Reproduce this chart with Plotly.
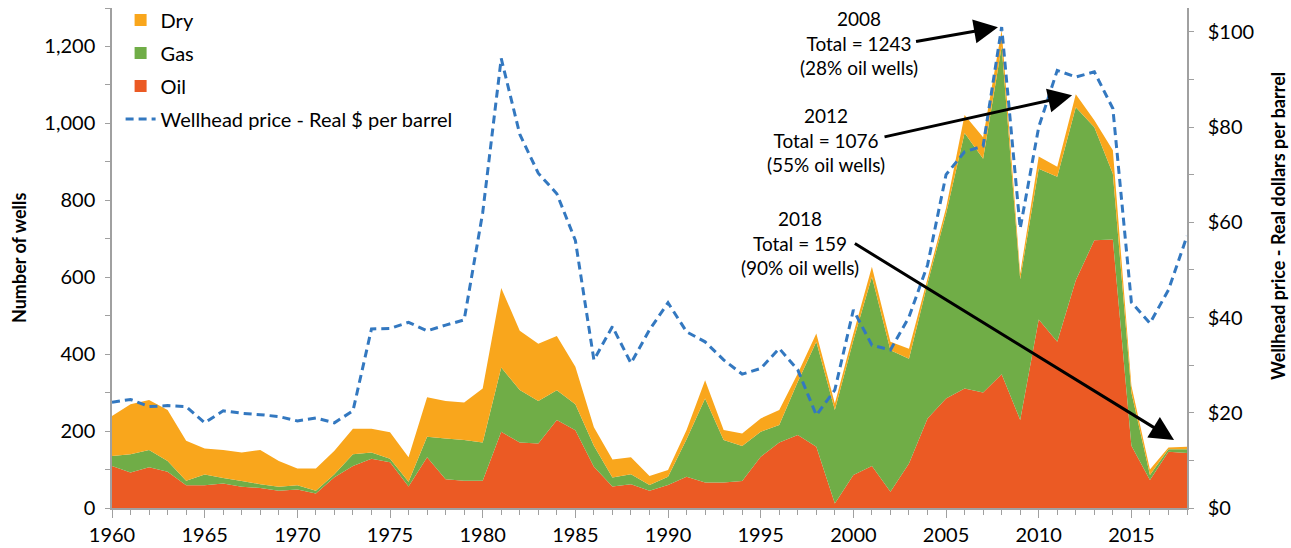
import plotly.graph_objects as go

years = list(range(1960, 2019))

oil_wells = [109, 92, 106, 94, 59, 59, 64, 55, 52, 45,
             48, 38, 80, 109, 128, 119, 56, 132, 75, 71,
             71, 198, 170, 168, 229, 202, 107, 56, 62, 45,
             60, 81, 66, 66, 70, 133, 170, 190, 159, 12,
             86, 109, 42, 116, 233, 285, 311, 300, 348, 229,
             490, 432, 592, 696, 698, 162, 73, 146, 143]

gas_wells = [26, 48, 45, 28, 12, 28, 14, 15, 10, 10,
             11, 7, 8, 31, 16, 9, 12, 53, 106, 106,
             99, 167, 137, 110, 77, 68, 55, 23, 26, 15,
             21, 98, 219, 111, 91, 65, 46, 138, 273, 243,
             350, 492, 368, 272, 351, 480, 664, 608, 852, 366,
             392, 429, 450, 294, 171, 138, 13, 7, 10]

dry_wells = [104, 130, 130, 133, 104, 68, 73, 74, 89, 67,
             44, 58, 61, 66, 62, 69, 64, 103, 97, 97,
             141, 207, 154, 149, 141, 97, 48, 47, 44, 23,
             18, 24, 47, 26, 33, 35, 39, 22, 22, 17,
             18, 26, 22, 26, 13, 15, 47, 56, 43, 15,
             32, 26, 34, 18, 61, 18, 14, 4, 6]

price = [22.2, 22.8, 21.3, 21.5, 21.3, 17.9, 20.4, 19.9, 19.6, 19.2,
         18.3, 18.9, 17.9, 20.4, 37.6, 37.7, 39.0, 37.2, 38.4, 39.5,
         62.0, 94.4, 78.5, 70.3, 66.0, 56.2, 31.1, 38.1, 30.4, 37.4,
         43.1, 37.0, 34.9, 31.1, 28.1, 29.3, 33.5, 29.0, 19.5, 24.8,
         41.6, 34.2, 33.2, 40.1, 51.0, 70.0, 74.8, 76.0, 101.0, 58.7,
         80.0, 91.9, 90.5, 91.6, 83.9, 43.2, 38.8, 45.8, 57.1]

x_tick_vals = list(range(1960, 2019, 5))
left_tick_vals = [0, 200, 400, 600, 800, 1000, 1200]
right_tick_vals = [0, 20, 40, 60, 80, 100]
right_tick_text = ["$" + str(v) for v in right_tick_vals]

notes = [
    ("2008<br>Total = 1243<br>(28% oil wells)", 2000.3, 1210, 2003.3, 1212, 2007.8, 1250),
    ("2012<br>Total = 1076<br>(55% oil wells)", 1998.5, 956, 2001.6, 964, 2011.8, 1073),
    ("2018<br>Total = 159<br>(90% oil wells)", 1997.1, 688, 2000.0, 690, 2017.3, 177),
]

FONT = "Lato, 'Open Sans', Arial, sans-serif"
C_OIL = "#EB5A24"
C_GAS = "#70AD47"
C_DRY = "#F9A61C"
C_PRICE = "#3378C0"
AX = "#A0A0A0"
TICKSZ = 20

fig = go.Figure()
fig.add_trace(go.Scatter(x=years, y=oil_wells, name="Oil", stackgroup="w", mode="none",
                         fillcolor=C_OIL, showlegend=False))
fig.add_trace(go.Scatter(x=years, y=gas_wells, name="Gas", stackgroup="w", mode="none",
                         fillcolor=C_GAS, showlegend=False))
fig.add_trace(go.Scatter(x=years, y=dry_wells, name="Dry", stackgroup="w", mode="none",
                         fillcolor=C_DRY, showlegend=False))
fig.add_trace(go.Scatter(x=years, y=price, name="Wellhead price - Real $ per barrel",
                         mode="lines", yaxis="y2", legendrank=4, legendgroup="d",
                         line=dict(color=C_PRICE, width=3, dash="8px,5px")))

# legend keys (square swatches like the original)
for nm, col, rk, grp in [("Dry", C_DRY, 1, "a"), ("Gas", C_GAS, 2, "b"), ("Oil", C_OIL, 3, "c")]:
    fig.add_trace(go.Scatter(x=[None], y=[None], name=nm, mode="markers", legendrank=rk,
                             legendgroup=grp,
                             marker=dict(symbol="square", size=12, color=col, line=dict(width=0))))

for text, tx, ty, ax_, ay_, hx, hy in notes:
    fig.add_annotation(x=tx, y=ty, text=text, showarrow=False, xref="x", yref="y",
                       font=dict(family=FONT, size=19, color="#000000"), align="center")
    fig.add_annotation(x=hx, y=hy, ax=ax_, ay=ay_, xref="x", yref="y", axref="x", ayref="y",
                       text="", showarrow=True, arrowhead=2, arrowsize=1.6, arrowwidth=3,
                       arrowcolor="#000000")

fig.add_annotation(text="<b>Number of wells</b>", xref="paper", yref="paper", x=-0.0865, y=0.5,
                   textangle=-90, showarrow=False, xanchor="center", yanchor="middle",
                   font=dict(family=FONT, size=18, color="#000000"))
fig.add_annotation(text="<b>Wellhead price - Real dollars per barrel</b>", xref="paper", yref="paper",
                   x=1.0847, y=0.564, textangle=-90, showarrow=False, xanchor="center",
                   yanchor="middle", font=dict(family=FONT, size=18, color="#000000"))

fig.update_layout(
    template="none",
    width=1291, height=548,
    margin=dict(l=112, r=104, t=8, b=40, pad=0, autoexpand=False),
    paper_bgcolor="white", plot_bgcolor="white",
    font=dict(family=FONT, size=TICKSZ, color="#000000"),
    showlegend=True,
    legend=dict(x=0.008, xref="paper", y=0.999, yref="container", xanchor="left", yanchor="top",
                bgcolor="rgba(0,0,0,0)", font=dict(size=20), traceorder="grouped",
                tracegroupgap=4, itemwidth=30),
    xaxis=dict(range=[1960, 2018], tickvals=x_tick_vals, showline=True, linecolor=AX, linewidth=1.5,
               ticks="outside", ticklen=8, tickcolor=AX, showgrid=False, zeroline=False,
               automargin=False, tickfont=dict(size=TICKSZ),
               minor=dict(dtick=1, ticks="outside", ticklen=5, tickcolor=AX, showgrid=False)),
    yaxis=dict(range=[0, 1300], tickvals=left_tick_vals, tickformat=",d", showline=True,
               linecolor=AX, linewidth=1.5, ticks="outside", ticklen=5, tickcolor=AX,
               showgrid=False, zeroline=False, automargin=False, tickfont=dict(size=TICKSZ),
               ticklabelstandoff=6,
               minor=dict(dtick=100, ticks="outside", ticklen=5, tickcolor=AX, showgrid=False)),
    yaxis2=dict(range=[0, 105], tickvals=right_tick_vals, ticktext=right_tick_text, overlaying="y",
                side="right", showline=True, linecolor=AX, linewidth=1.5, ticks="outside",
                ticklen=5, tickcolor=AX, showgrid=False, zeroline=False, automargin=False,
                tickfont=dict(size=TICKSZ), ticklabelstandoff=10,
                minor=dict(dtick=10, ticks="outside", ticklen=5, tickcolor=AX, showgrid=False)),
)

page_css = ("document.documentElement.style.overflow='hidden';"
            "document.body.style.margin='0';document.body.style.overflow='hidden';")
fig.write_html("out.html", post_script=page_css, config={"displayModeBar": False})
